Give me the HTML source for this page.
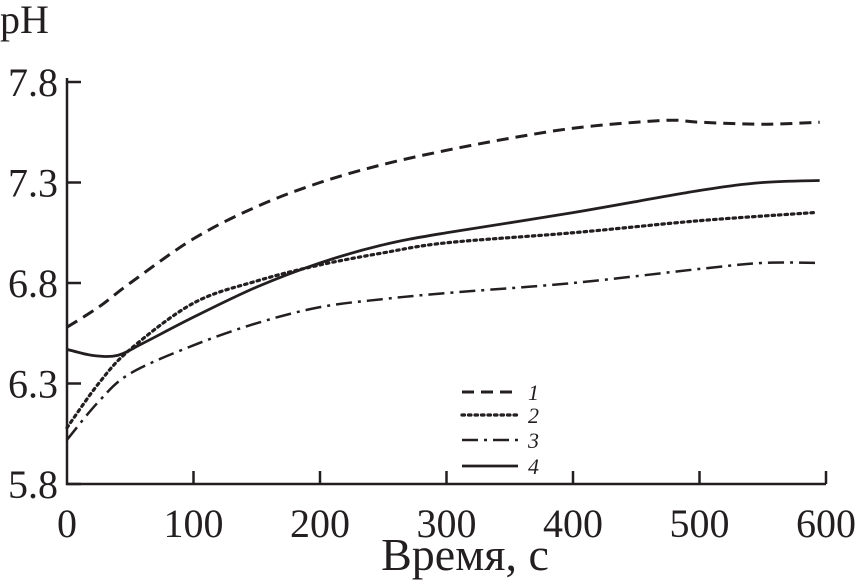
<!DOCTYPE html>
<html><head><meta charset="utf-8"><style>
body{margin:0;background:#fff}
svg{display:block}
text{font-family:"Liberation Serif",serif;fill:#231f20}
</style></head><body>
<svg id="chart" width="858" height="583">
<g id="axes" stroke="#231f20" stroke-width="2.5" fill="none"></g>
<g id="series"></g>
<g id="labels"></g>
</svg>
<script>
const xTicks=[0,100,200,300,400,500,600];
const yTicks=[5.8,6.3,6.8,7.3,7.8];
const yTickLabels=["5.8","6.3","6.8","7.3","7.8"];
const t1=[0,25,50,100,150,200,250,300,350,400,450,480,500,550,595];
const s1=[6.58,6.68,6.8,7.02,7.18,7.30,7.39,7.46,7.52,7.57,7.60,7.61,7.60,7.59,7.6];
const t2=[0,25,50,100,150,200,250,300,400,500,590];
const s2=[6.08,6.3,6.47,6.7,6.81,6.89,6.95,7.0,7.05,7.11,7.15];
const t3=[0,25,50,100,150,200,250,300,400,500,550,595];
const s3=[6.02,6.21,6.35,6.49,6.6,6.68,6.72,6.75,6.8,6.87,6.9,6.9];
const t4=[0,20,40,60,100,150,200,250,300,400,500,550,595];
const s4=[6.47,6.44,6.44,6.5,6.63,6.78,6.9,6.99,7.05,7.15,7.26,7.3,7.31];
const series=[{t:t1,v:s1,dash:"12 7",w:3,name:"1"},{t:t2,v:s2,dash:"2.5 4",w:3.2,name:"2"},{t:t3,v:s3,dash:"16 6 3 6",w:2.5,name:"3"},{t:t4,v:s4,dash:"",w:2.8,name:"4"}];
const X0=67,X1=826,Y0=484,Y1=82;
const xs=v=>X0+(v-0)/600*(X1-X0);
const ys=v=>Y0-(v-5.8)/2*(Y0-Y1);
const NS="http://www.w3.org/2000/svg";
const axes=document.getElementById('axes'),sg=document.getElementById('series'),lg=document.getElementById('labels');
function mk(tag,attrs,parent){const e=document.createElementNS(NS,tag);for(const k in attrs)e.setAttribute(k,attrs[k]);parent.appendChild(e);return e;}
let a=mk('path',{d:`M${X0},${Y1-4}V${Y0}H${X1}`},axes);


xTicks.forEach((v,i)=>{
 if(i>0){let t=mk('line',{x1:xs(v),x2:xs(v),y1:Y0,y2:Y0-13},axes);
 
 }
 let l=mk('text',{x:xs(v),y:537,'text-anchor':'middle','font-size':40},lg);l.textContent=v;
 
 
});
yTicks.forEach((v,i)=>{
 let t=mk('line',{x1:X0,x2:X0+14,y1:ys(v),y2:ys(v)},axes);
 
 
 let l=mk('text',{x:58,y:ys(v)+14,'text-anchor':'end','font-size':40},lg);l.textContent=yTickLabels[i];
 
 
});
function smooth(pts){let d=`M${pts[0][0]},${pts[0][1]}`;for(let i=0;i<pts.length-1;i++){const p0=pts[i-1]||pts[i],p1=pts[i],p2=pts[i+1],p3=pts[i+2]||p2;d+=`C${p1[0]+(p2[0]-p0[0])/6},${p1[1]+(p2[1]-p0[1])/6} ${p2[0]-(p3[0]-p1[0])/6},${p2[1]-(p3[1]-p1[1])/6} ${p2[0]},${p2[1]}`;}return d;}
const legY=[392,415,440,466];
series.forEach((s,i)=>{
 const pts=s.t.map((t,j)=>[xs(t),ys(s.v[j])]);
 let p=mk('path',{d:smooth(pts),fill:'none',stroke:'#231f20','stroke-width':s.w,'stroke-dasharray':s.dash,'stroke-linecap':i==1?'round':'butt'},sg);
 
 
 let ll=mk('line',{x1:462,x2:518,y1:legY[i],y2:legY[i],stroke:'#231f20','stroke-width':s.w,'stroke-dasharray':s.dash,'stroke-linecap':i==1?'round':'butt'},lg);
 
 
 let lt=mk('text',{x:528,y:legY[i]+8,'font-size':22,'font-style':'italic'},lg);lt.textContent=s.name;
 
 
});
let yt=mk('text',{x:0,y:33,'font-size':40},lg);yt.textContent='pH';


let xt=mk('text',{x:465,y:570,'text-anchor':'middle','font-size':46},lg);xt.textContent='Время, с';


</script>
</body></html>
